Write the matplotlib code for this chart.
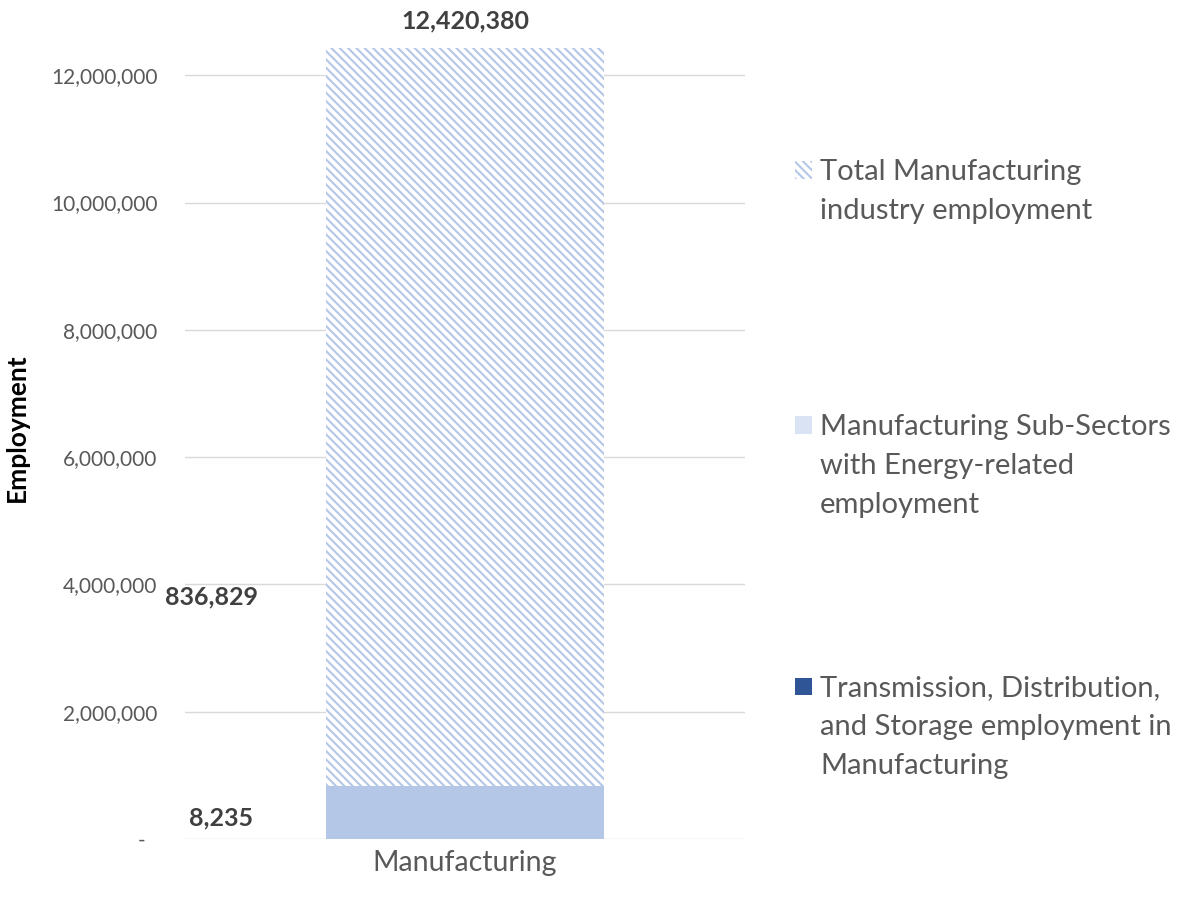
import matplotlib
matplotlib.use("Agg")
import matplotlib.pyplot as plt
from matplotlib.patches import Rectangle
from matplotlib.ticker import FuncFormatter

# Data
categories = ["Manufacturing"]
total_mfg = [12420380]
energy_subsectors = [836829]
tds_mfg = [8235]
series_names = [
    "Total Manufacturing\nindustry employment",
    "Manufacturing Sub-Sectors\nwith Energy-related\nemployment",
    "Transmission, Distribution,\nand Storage employment in\nManufacturing",
]
y_ticks = [0, 2000000, 4000000, 6000000, 8000000, 10000000, 12000000]

plt.rcParams["font.family"] = ["Lato", "DejaVu Sans"]
plt.rcParams["hatch.linewidth"] = 1.5

HATCH_BLUE = "#B4C7E7"
LIGHT_BLUE = "#DAE3F3"
SOLID_BLUE = "#B4C7E7"
DARK_BLUE = "#2F5597"
TEXT_GRAY = "#595959"
LABEL_DARK = "#404040"
HATCH = "\\\\\\\\"

fig = plt.figure(figsize=(11.87, 8.99), dpi=100)
ax = fig.add_axes([0.1559, 0.0667, 0.4718, 0.8794])

x = list(range(len(categories)))
bar_w = 0.496

# Overlapping bars: total (hatched) behind, sub-sectors and T&D in front
ax.bar(x, total_mfg, width=bar_w, color="white", edgecolor=HATCH_BLUE,
       hatch=HATCH, linewidth=0, zorder=2)
ax.bar(x, energy_subsectors, width=bar_w, color=SOLID_BLUE, linewidth=0, zorder=3)
ax.bar(x, tds_mfg, width=bar_w, color=DARK_BLUE, linewidth=0, zorder=4)

ax.set_xlim(-0.5, 0.5)
ax.set_ylim(0, total_mfg[0])
ax.set_yticks(y_ticks)
ax.yaxis.set_major_formatter(FuncFormatter(
    lambda v, p: "-\u2007" if v == 0 else f"{int(v):,}"))
ax.set_xticks(x)
ax.set_xticklabels(categories)

ax.grid(axis="y", color="#D9D9D9", linewidth=1.0, zorder=0)
ax.set_axisbelow(True)
for s in ax.spines.values():
    s.set_visible(False)
ax.tick_params(axis="y", length=0, pad=20, labelsize=15, labelcolor=TEXT_GRAY)
ax.tick_params(axis="x", length=0, pad=8, labelsize=20.5, labelcolor=TEXT_GRAY)

ax.set_ylabel("Employment", fontsize=19, fontweight="bold", color="black")
ax.yaxis.set_label_coords(-0.279, 0.52)

# Value labels
ax.text(x[0], total_mfg[0] + 255000, f"{total_mfg[0]:,}", ha="center", va="bottom",
        fontsize=18, fontweight="bold", color=LABEL_DARK, clip_on=False)
ax.text(-0.452, 3800000, f"{energy_subsectors[0]:,}", ha="center", va="center",
        fontsize=18, fontweight="bold", color=LABEL_DARK, clip_on=False)
ax.text(-0.436, 330000, f"{tds_mfg[0]:,}", ha="center", va="center",
        fontsize=18, fontweight="bold", color=LABEL_DARK, clip_on=False)

# Legend drawn at the right of the plot area
W, H = 1187.0, 899.0
legend_items = [
    (series_names[0], dict(facecolor="white", edgecolor=HATCH_BLUE, hatch=HATCH, linewidth=0), 170),
    (series_names[1], dict(facecolor=LIGHT_BLUE, linewidth=0), 425),
    (series_names[2], dict(facecolor=DARK_BLUE, linewidth=0), 686),
]
sq = 17
for label, style, yc in legend_items:
    fig.patches.append(Rectangle((795 / W, 1 - (yc + sq / 2) / H), sq / W, sq / H,
                                 transform=fig.transFigure, **style))
    fig.text(820 / W, 1 - (yc - 11) / H, label, ha="left", va="top",
             fontsize=21, color=TEXT_GRAY, linespacing=1.62)

fig.savefig("out.png", dpi=100)
